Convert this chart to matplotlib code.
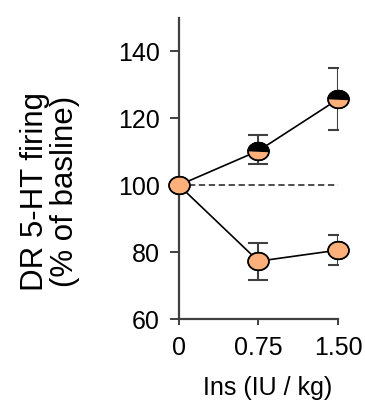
import numpy as np
import matplotlib.pyplot as plt
from matplotlib.path import Path

plt.rcParams['font.family'] = ['Liberation Sans', 'DejaVu Sans']

doses = [0, 0.75, 1.50]
dose_labels = ['0', '0.75', '1.50']

# group with increased firing (half black markers)
up_mean = [100, 110.3, 125.7]
up_err_lo = [0, 4.1, 9.2]
up_err_hi = [0, 4.6, 9.2]

# group with decreased firing (orange markers)
down_mean = [100, 77.3, 80.6]
down_err_lo = [0, 5.6, 4.5]
down_err_hi = [0, 5.4, 4.5]

orange = '#fdb07a'
gray = '#404040'

# ellipse markers (wider than tall)
t = np.linspace(0, 2 * np.pi, 60)
ellipse = Path(np.column_stack([np.cos(t), 0.85 * np.sin(t)]), closed=True)
th = np.linspace(0, np.pi, 30)
top_half = Path(np.column_stack([np.cos(th), 0.85 * np.sin(th)]), closed=True)

fig = plt.figure(figsize=(3.65, 4.08), dpi=100)
ax = fig.add_axes([0.49, 0.218, 0.436, 0.738])

ax.plot([0, 1.5], [100, 100], ls=(0, (3.5, 2)), color=gray, lw=1.3, zorder=1)

ax.errorbar(doses[1:], up_mean[1:], yerr=[up_err_lo[1:], up_err_hi[1:]], fmt='none',
            ecolor=gray, elinewidth=1.5, capsize=7.5, capthick=1.5, zorder=2)
ax.errorbar(doses[1:], down_mean[1:], yerr=[down_err_lo[1:], down_err_hi[1:]], fmt='none',
            ecolor=gray, elinewidth=1.5, capsize=7.5, capthick=1.5, zorder=2)

ax.plot(doses, up_mean, color='black', lw=1.2, zorder=3)
ax.plot(doses, down_mean, color='black', lw=1.2, zorder=3)

ms = 15
ax.plot(doses, down_mean, ls='none', marker=ellipse, ms=ms, mfc=orange, mec='black',
        mew=1.1, zorder=4, clip_on=False)
ax.plot(doses[1:], up_mean[1:], ls='none', marker=ellipse, ms=ms, mfc=orange, mec='black',
        mew=1.1, zorder=4, clip_on=False)
ax.plot(doses[1:], up_mean[1:], ls='none', marker=top_half, ms=ms, mfc='black', mec='black',
        mew=1.1, zorder=5, clip_on=False)
ax.plot(doses, down_mean, ls='none', marker=ellipse, ms=ms, mfc='none', mec='black',
        mew=1.1, zorder=6, clip_on=False)
ax.plot(doses[1:], up_mean[1:], ls='none', marker=ellipse, ms=ms, mfc='none', mec='black',
        mew=1.1, zorder=6, clip_on=False)

ax.set_xlim(0, 1.5)
ax.set_ylim(60, 150)
ax.set_xticks(doses)
ax.set_xticklabels(dose_labels)
ax.set_yticks([60, 80, 100, 120, 140])

for s in ['top', 'right']:
    ax.spines[s].set_visible(False)
for s in ['left', 'bottom']:
    ax.spines[s].set_color(gray)
    ax.spines[s].set_linewidth(1.6)
ax.tick_params(axis='both', colors=gray, width=1.4, labelsize=18,
               labelcolor='black')
ax.tick_params(axis='x', length=4, pad=8)
ax.tick_params(axis='y', length=6.5, pad=7)

ax.set_ylabel('DR 5-HT firing\n(% of basline)', fontsize=22.5, linespacing=1.0)
ax.yaxis.set_label_coords(-0.62, 0.425)
ax.set_xlabel('Ins (IU / kg)', fontsize=18)
ax.xaxis.set_label_coords(0.56, -0.19)

fig.savefig('out.png', dpi=100)
